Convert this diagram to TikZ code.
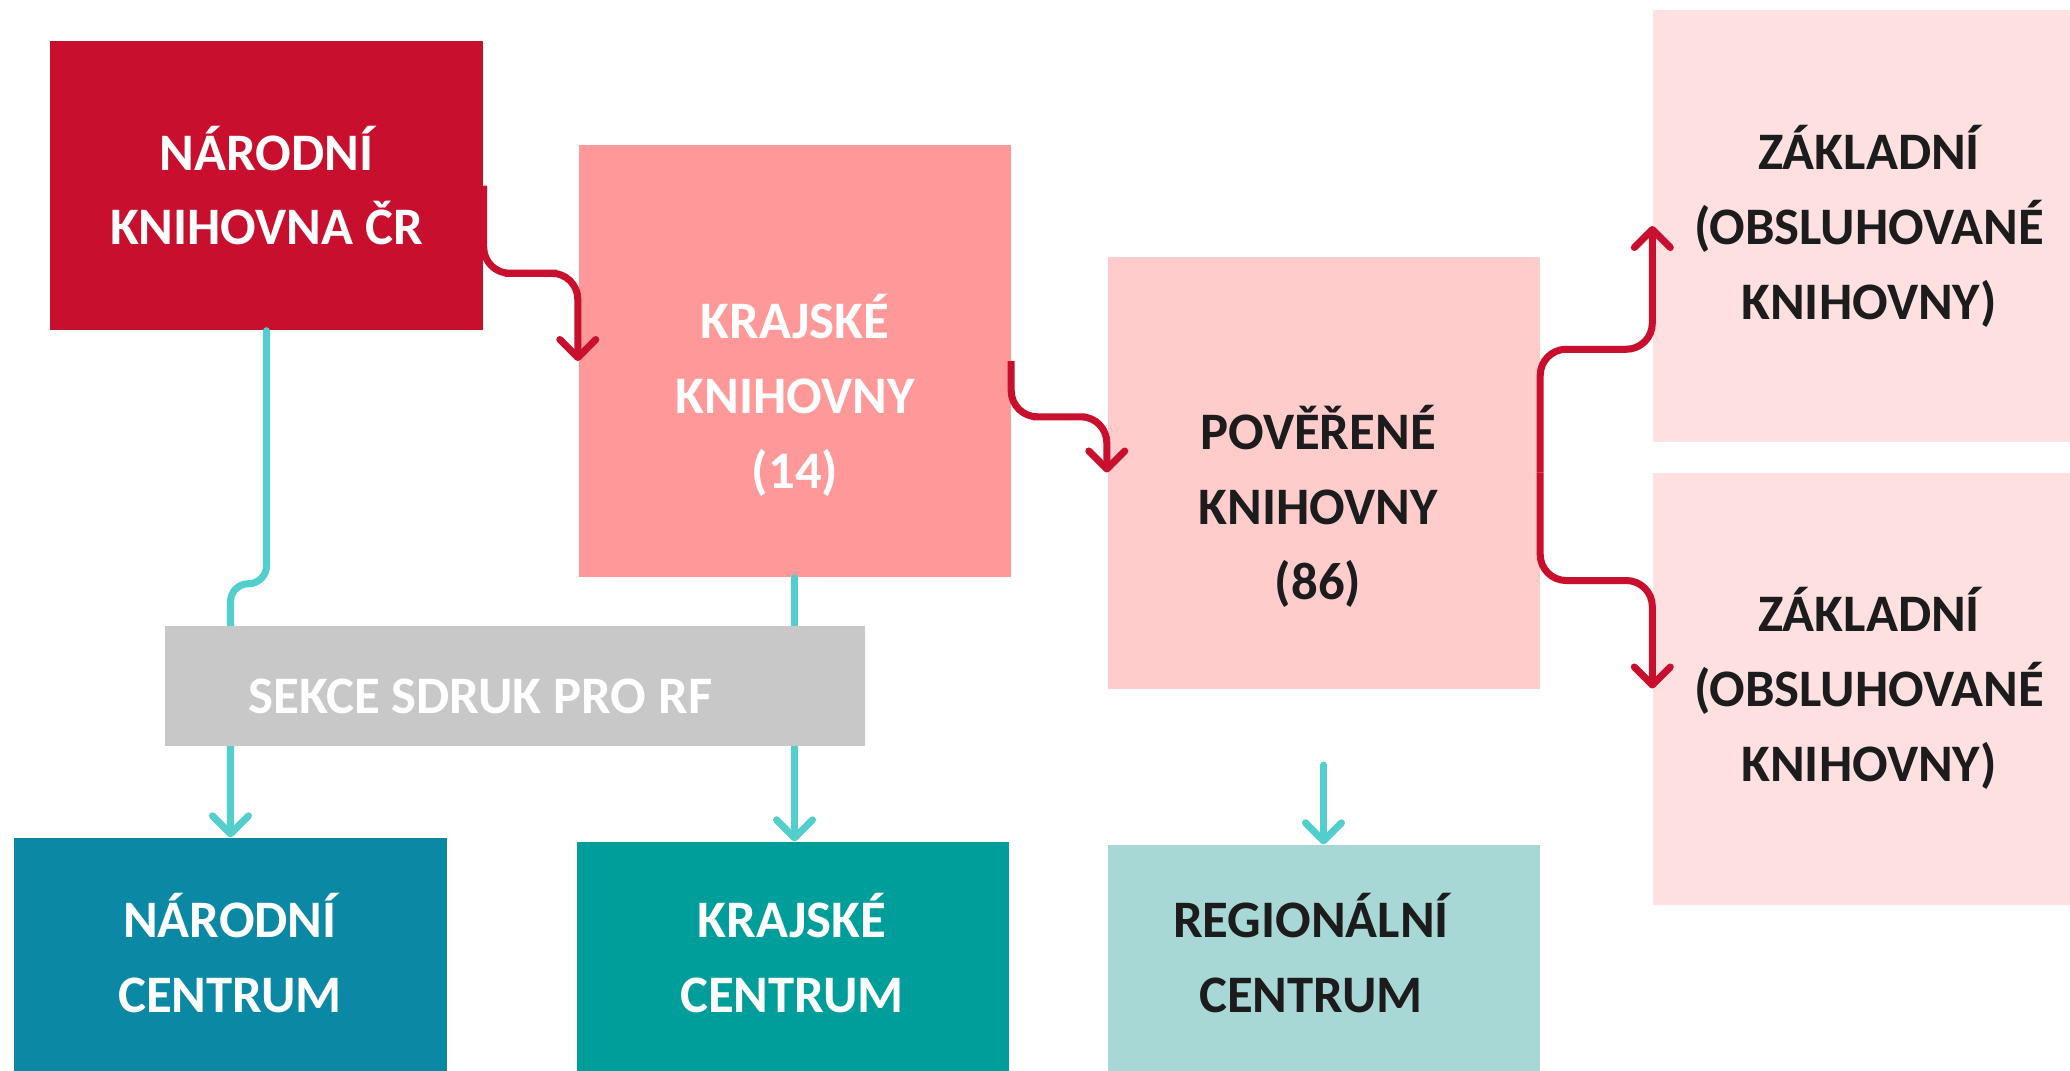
\documentclass[tikz,border=0pt]{standalone}
\usepackage{fontspec}
\setmainfont{Carlito}
\usetikzlibrary{arrows.meta,calc}
\definecolor{nkred}{HTML}{C8102E}
\definecolor{kkpink}{HTML}{FF9999}
\definecolor{pkpink}{HTML}{FFCCCC}
\definecolor{zkpink}{HTML}{FFE0E0}
\definecolor{sekgray}{HTML}{C8C8C8}
\definecolor{ncblue}{HTML}{0B88A4}
\definecolor{kcteal}{HTML}{009E9B}
\definecolor{rcteal}{HTML}{A8D8D5}
\definecolor{tealline}{HTML}{52CFCC}
\definecolor{darktext}{HTML}{1C1C1C}
\begin{document}
\begin{tikzpicture}[
    box/.style={rectangle, inner sep=0pt, align=center, font=\bfseries\fontsize{15}{21.3}\selectfont},
    bigbox/.style={box, minimum width=4.32cm, minimum height=4.32cm},
    centbox/.style={box, minimum width=4.32cm, minimum height=2.4cm},
    redarr/.style={draw=nkred, line width=2pt, rounded corners=0.26cm, -{Straight Barb[length=0.18cm,width=0.36cm,round]}},
    tealarr/.style={draw=tealline, line width=2pt, line cap=round, rounded corners=0.18cm, -{Straight Barb[length=0.18cm,width=0.36cm,round]}}
]
    \useasboundingbox (0,0) rectangle (20.7,-10.7);
    \clip (0,0) rectangle (20.7,-10.7);
    \fill[white] (0,0) rectangle (20.7,-10.7);

    % knihovny
    \node[box, fill=nkred, text=white, minimum width=4.33cm, minimum height=2.89cm] (nk) at (2.665,-1.855) {NÁRODNÍ\\KNIHOVNA ČR};
    \node[bigbox, fill=kkpink] (kk) at (7.945,-3.61) {};
    \node[box, text=white] (kktext) at (7.95,-3.95) {KRAJSKÉ\\KNIHOVNY\\(14)};
    \node[bigbox, fill=pkpink] (pk) at (13.235,-4.725) {};
    \node[box, text=darktext] (pktext) at (13.18,-5.06) {POVĚŘENÉ\\KNIHOVNY\\(86)};
    \node[bigbox, fill=zkpink, text=darktext] (zk1) at (18.69,-2.26) {ZÁKLADNÍ\\(OBSLUHOVANÉ\\KNIHOVNY)};
    \node[bigbox, fill=zkpink, text=darktext] (zk2) at (18.69,-6.885) {ZÁKLADNÍ\\(OBSLUHOVANÉ\\KNIHOVNY)};

    % centra
    \node[centbox, fill=ncblue] (nc) at (2.305,-9.58) {};
    \node[centbox, fill=kcteal] (kc) at (7.93,-9.62) {};
    \node[centbox, fill=rcteal] (rc) at (13.235,-9.65) {};
    \node[box, text=white] (nctext) at (2.30,-9.53) {NÁRODNÍ\\CENTRUM};
    \node[box, text=white] (kctext) at (7.92,-9.53) {KRAJSKÉ\\CENTRUM};
    \node[box, text=darktext] (rctext) at (13.11,-9.53) {REGIONÁLNÍ\\CENTRUM};

    % cervene sipky
    \draw[redarr] (nk.east) |- ($(nk.east)!0.5!(kk.west)$) -| (kk.west);
    \draw[redarr] (kk.east) |- ($(kk.east)!0.5!(pk.west)$) -| (pk.west);
    \draw[redarr] (pk.east) |- ($(pk.east)!0.5!(zk1.west)$) -| (zk1.west);
    \draw[redarr] (pk.east) |- ($(pk.east)!0.5!(zk2.west)$) -| (zk2.west);

    % tyrkysove sipky
    \draw[tealarr] (nk.south) -- ++(0,-2.53) -| (nc.north);
    \draw[tealarr] (kk.south) -- (kk.south |- kc.north);
    \coordinate (rcin) at (13.235,-7.65);
    \draw[tealarr] (rcin) -- (rc.north);

    % sekce
    \node[box, fill=sekgray, minimum width=7cm, minimum height=1.2cm] (sk) at (5.15,-6.86) {};
    \node[box, text=white, anchor=west] (sktext) at (2.48,-6.96) {SEKCE SDRUK PRO RF};
\end{tikzpicture}
\end{document}
